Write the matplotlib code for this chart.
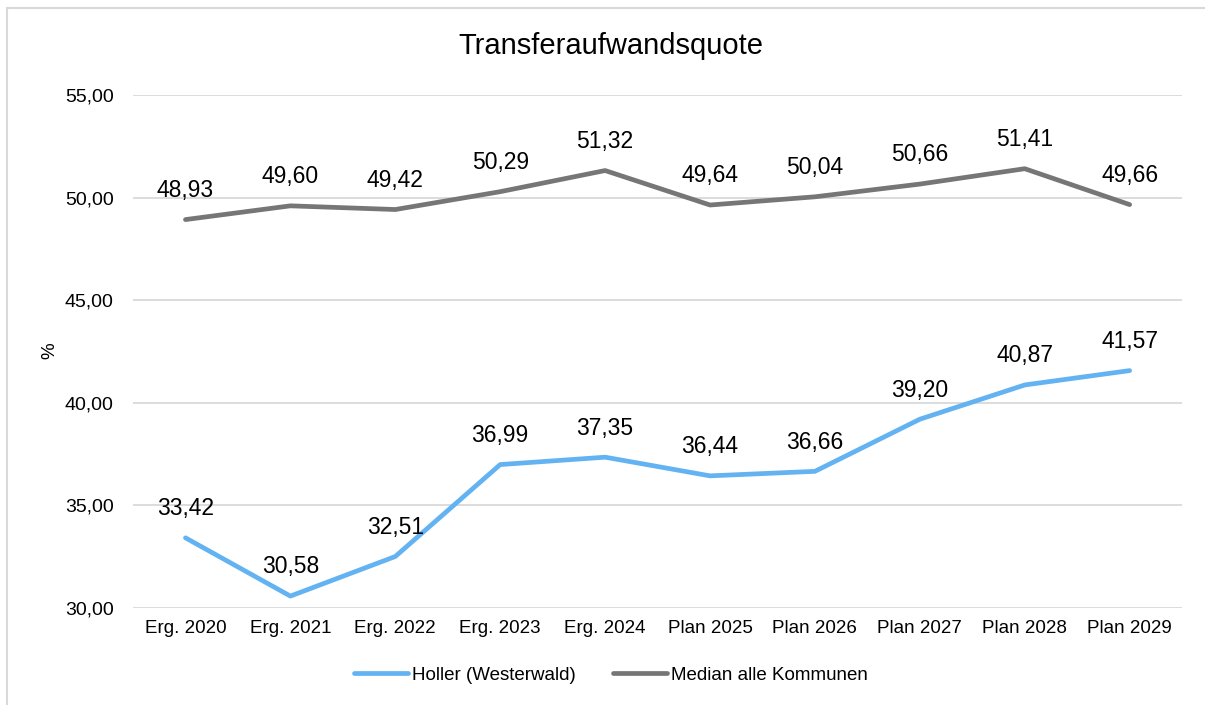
#!/usr/bin/env python3
# -*- coding: utf-8 -*-
# Transferaufwandsquote: Holler (Westerwald) vs. Median aller Kommunen

import matplotlib
matplotlib.use("Agg")
import matplotlib.pyplot as plt
from matplotlib.patches import Rectangle
from matplotlib.ticker import FuncFormatter

# Daten
jahre = ["Erg. 2020", "Erg. 2021", "Erg. 2022", "Erg. 2023", "Erg. 2024",
         "Plan 2025", "Plan 2026", "Plan 2027", "Plan 2028", "Plan 2029"]
holler = [33.42, 30.58, 32.51, 36.99, 37.35, 36.44, 36.66, 39.20, 40.87, 41.57]
median = [48.93, 49.60, 49.42, 50.29, 51.32, 49.64, 50.04, 50.66, 51.41, 49.66]
y_ticks = [30, 35, 40, 45, 50, 55]

# Stil
farbe_holler = "#63b3f2"
farbe_median = "#767676"
farbe_gitter = "#d9d9d9"
plt.rcParams["font.family"] = ["Liberation Sans", "DejaVu Sans"]


def komma(v, pos=None):
    return f"{v:.2f}".replace(".", ",")


fig = plt.figure(figsize=(12.05, 7.05), dpi=100)
ax = fig.add_axes([0.1104, 0.1376, 0.8706, 0.7276])

x = list(range(len(jahre)))
ax.plot(x, holler, color=farbe_holler, lw=3.4, solid_capstyle="round",
        solid_joinstyle="round", label="Holler (Westerwald)", zorder=3)
ax.plot(x, median, color=farbe_median, lw=3.4, solid_capstyle="round",
        solid_joinstyle="round", label="Median alle Kommunen", zorder=3)

for serie in (holler, median):
    for xi, v in zip(x, serie):
        ax.annotate(komma(v), (xi, v), xytext=(0, 21), textcoords="offset points",
                    ha="center", va="center", fontsize=16.5, color="black")

ax.set_xlim(-0.5, len(jahre) - 0.5)
ax.set_ylim(30, 55)
ax.set_yticks(y_ticks)
ax.yaxis.set_major_formatter(FuncFormatter(komma))
ax.set_xticks(x)
ax.set_xticklabels(jahre)
ax.tick_params(axis="y", length=0, labelsize=14, colors="black", pad=14)
ax.tick_params(axis="x", length=0, labelsize=13.5, colors="black", pad=9)
ax.grid(axis="y", color=farbe_gitter, lw=1.3)
ax.set_axisbelow(True)
for s in ax.spines.values():
    s.set_visible(False)

fig.text(50 / 1205, 1 - 351 / 705, "%", rotation=90, ha="center", va="center", fontsize=13.5)
fig.text(0.507, 0.935, "Transferaufwandsquote", ha="center", va="center", fontsize=21)

ax.legend(loc="center", bbox_to_anchor=(0.507, 0.0425), bbox_transform=fig.transFigure,
          ncol=2, frameon=False, fontsize=13.5, handlelength=2.9, handletextpad=0.2,
          columnspacing=2.0, borderpad=0)

# Rahmen des Diagramms
fig.patches.append(Rectangle((7 / 1205, -0.02), 1.05, 1 - 8 / 705 + 0.02,
                             transform=fig.transFigure, fill=False,
                             edgecolor=farbe_gitter, lw=1.5, clip_on=False))

fig.savefig("out.png", dpi=100)
